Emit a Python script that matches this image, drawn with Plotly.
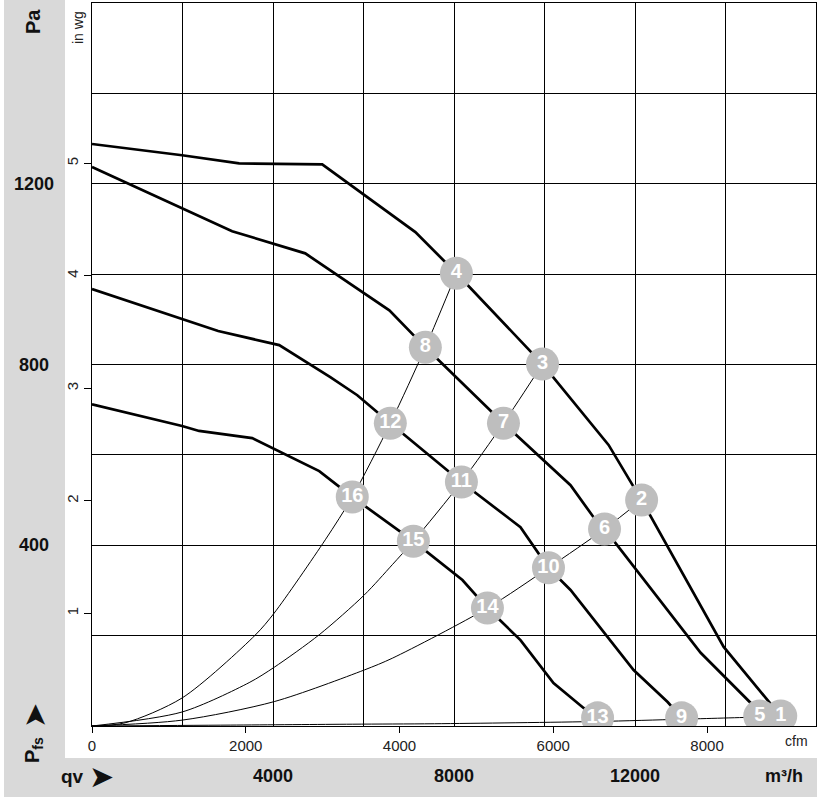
import plotly.graph_objects as go

# ---------------- data (m³/h, Pa) ----------------
curve1_q = [0, 1991, 3252, 5088, 7146, 7788, 8053, 9956, 11416, 11947, 12146, 13960, 14956, 15221]
curve1_p = [1288, 1263, 1245, 1243, 1093, 1027, 1002, 801, 622, 533, 500, 175, 53, 22]

curve2_q = [0, 1991, 3097, 4712, 6571, 7367, 9093, 10575, 11084, 11327, 13451, 14557, 14756]
curve2_p = [1237, 1146, 1095, 1046, 920, 838, 670, 533, 462, 436, 162, 51, 22]

curve3_q = [0, 1991, 2788, 4137, 5266, 5863, 6593, 8164, 9469, 10088, 10575, 11969, 12721, 13031]
curve3_p = [967, 900, 874, 843, 772, 732, 670, 540, 440, 350, 301, 124, 53, 18]

curve4_q = [0, 1991, 2367, 3540, 5022, 5752, 7102, 8186, 8739, 9469, 10199, 10863, 11173]
curve4_p = [712, 664, 653, 637, 564, 507, 409, 323, 261, 190, 95, 40, 18]

sysA_q = [0, 730, 1991, 3606, 4027, 5155, 5752, 6593, 7367, 8053]
sysA_p = [0, 7, 62, 201, 250, 412, 507, 670, 838, 1002]
sysB_q = [0, 1991, 3473, 4027, 5022, 6018, 6637, 7102, 8164, 9093, 9956]
sysB_p = [0, 31, 96, 130, 202, 290, 357, 409, 540, 670, 801]
sysC_q = [0, 1991, 4027, 6018, 6637, 8739, 10088, 11327, 12146]
sysC_p = [0, 13, 54, 124, 150, 261, 350, 436, 500]
sysD_q = [0, 3053, 5752, 7567, 11173, 13031, 14756, 15221]
sysD_p = [0, 2, 4, 5, 10, 15, 20, 22]

pt_labels = ["1", "2", "3", "4", "5", "6", "7", "8", "9", "10", "11", "12", "13", "14", "15", "16"]
pt_q = [15221, 12146, 9956, 8053, 14756, 11327, 9093, 7367, 13031, 10088, 8164, 6593, 11173, 8739, 7102, 5752]
pt_p = [22, 500, 801, 1002, 22, 436, 670, 838, 18, 350, 540, 670, 18, 261, 409, 507]

pa_ticks = [400, 800, 1200]
m3h_ticks = [4000, 8000, 12000]
cfm_ticks = [0, 2000, 4000, 6000, 8000]
inwg_ticks = [1, 2, 3, 4, 5]

Q_MAX = 16000
P_MAX = 1600
CFM = 1.699
INWG = 249.09

# ---------------- figure ----------------
W, H = 822, 799
L, R, T, B = 92, 6, 3, 73
pw, ph = W - L - R, H - T - B


def px(xp):
    return (xp - L) / pw


def py(yp):
    return (H - B - yp) / ph


fig = go.Figure()

for q, p in [(sysA_q, sysA_p), (sysB_q, sysB_p), (sysC_q, sysC_p), (sysD_q, sysD_p)]:
    fig.add_trace(go.Scatter(x=q, y=p, mode="lines", line=dict(color="black", width=1, shape="spline", smoothing=0.8),
                             showlegend=False, hoverinfo="skip"))

for q, p in [(curve1_q, curve1_p), (curve2_q, curve2_p), (curve3_q, curve3_p), (curve4_q, curve4_p)]:
    fig.add_trace(go.Scatter(x=q, y=p, mode="lines", line=dict(color="black", width=2.7),
                             showlegend=False, hoverinfo="skip"))

fig.add_trace(go.Scatter(x=pt_q, y=pt_p, mode="markers+text", text=pt_labels,
                         textposition="middle center",
                         textfont=dict(family="Arial, Liberation Sans", size=20, color="white", weight="bold"),
                         marker=dict(size=33, color="#BEBEBE", line=dict(width=0)),
                         showlegend=False, hoverinfo="skip"))

# dummy for secondary axes
fig.add_trace(go.Scatter(x=[None], y=[None], xaxis="x2", yaxis="y2", showlegend=False, hoverinfo="skip"))

axis_common = dict(showgrid=True, gridcolor="black", gridwidth=1, zeroline=False,
                   showline=True, linecolor="black", linewidth=1, mirror=True,
                   showticklabels=False, ticks="")

fig.update_layout(
    width=W, height=H, margin=dict(l=L, r=R, t=T, b=B),
    paper_bgcolor="white", plot_bgcolor="white",
    font=dict(family="Arial, Liberation Sans", color="#222"),
    xaxis=dict(range=[0, Q_MAX], dtick=2000, tick0=0, **axis_common),
    yaxis=dict(range=[0, P_MAX], dtick=200, tick0=0, **axis_common),
    xaxis2=dict(overlaying="x", side="bottom", anchor="y", range=[0, Q_MAX / CFM],
                tickmode="array", tickvals=cfm_ticks, ticktext=[str(v) for v in cfm_ticks],
                ticks="outside", ticklen=6, tickcolor="black", showgrid=False, zeroline=False,
                showline=False, tickfont=dict(size=15, color="#222")),
    yaxis2=dict(overlaying="y", side="left", anchor="x", range=[0, P_MAX / INWG],
                tickmode="array", tickvals=inwg_ticks, ticktext=[str(v) for v in inwg_ticks],
                ticks="outside", ticklen=7, tickcolor="black", tickangle=-90, showgrid=False,
                zeroline=False, showline=False, tickfont=dict(size=15, color="#222")),
)

gray = "#D9D9D9"
fig.add_shape(type="rect", xref="paper", yref="paper", x0=px(4), x1=px(65), y0=py(797), y1=py(0),
              fillcolor=gray, line=dict(width=0), layer="below")
fig.add_shape(type="rect", xref="paper", yref="paper", x0=px(4), x1=px(817), y0=py(797), y1=py(758),
              fillcolor=gray, line=dict(width=0), layer="below")

bold = dict(family="Arial, Liberation Sans", size=18, color="#111", weight="bold")
for v in pa_ticks:
    fig.add_annotation(x=px(34), y=v, xref="paper", yref="y", text=str(v), showarrow=False,
                       font=bold, xanchor="center", yanchor="middle")
for v in m3h_ticks:
    fig.add_annotation(x=v, y=py(776), xref="x", yref="paper", text=str(v), showarrow=False,
                       font=bold, xanchor="center", yanchor="middle")

arrow_font = dict(family="DejaVu Sans", size=30, color="#111")
fig.add_annotation(x=px(784), y=py(776), xref="paper", yref="paper", text="m³/h", showarrow=False,
                   font=bold, xanchor="center", yanchor="middle")
fig.add_annotation(x=px(72), y=py(776), xref="paper", yref="paper", text="qv", showarrow=False,
                   font=dict(family="Arial, Liberation Sans", size=19, color="#111", weight="bold"),
                   xanchor="center", yanchor="middle")
fig.add_annotation(x=px(101), y=py(776), xref="paper", yref="paper", text="➤", showarrow=False,
                   font=arrow_font, xanchor="center", yanchor="middle")
fig.add_annotation(x=px(33), y=py(22), xref="paper", yref="paper", text="Pa", showarrow=False,
                   font=dict(family="Arial, Liberation Sans", size=20, color="#111", weight="bold"),
                   textangle=-90, xanchor="center", yanchor="middle")
fig.add_annotation(x=px(33), y=py(750), xref="paper", yref="paper", text="P<sub>fs</sub>", showarrow=False,
                   font=dict(family="Arial, Liberation Sans", size=20, color="#111", weight="bold"),
                   textangle=-90, xanchor="center", yanchor="middle")
fig.add_annotation(x=px(34), y=py(716), xref="paper", yref="paper", text="➤", showarrow=False,
                   font=arrow_font, textangle=-90, xanchor="center", yanchor="middle")
fig.add_annotation(x=px(78), y=py(28), xref="paper", yref="paper", text="in wg", showarrow=False,
                   font=dict(size=14, color="#222"), textangle=-90, xanchor="center", yanchor="middle")
fig.add_annotation(x=px(796), y=py(741), xref="paper", yref="paper", text="cfm", showarrow=False,
                   font=dict(size=14, color="#222"), xanchor="center", yanchor="middle")

fig.write_html("out.html")
